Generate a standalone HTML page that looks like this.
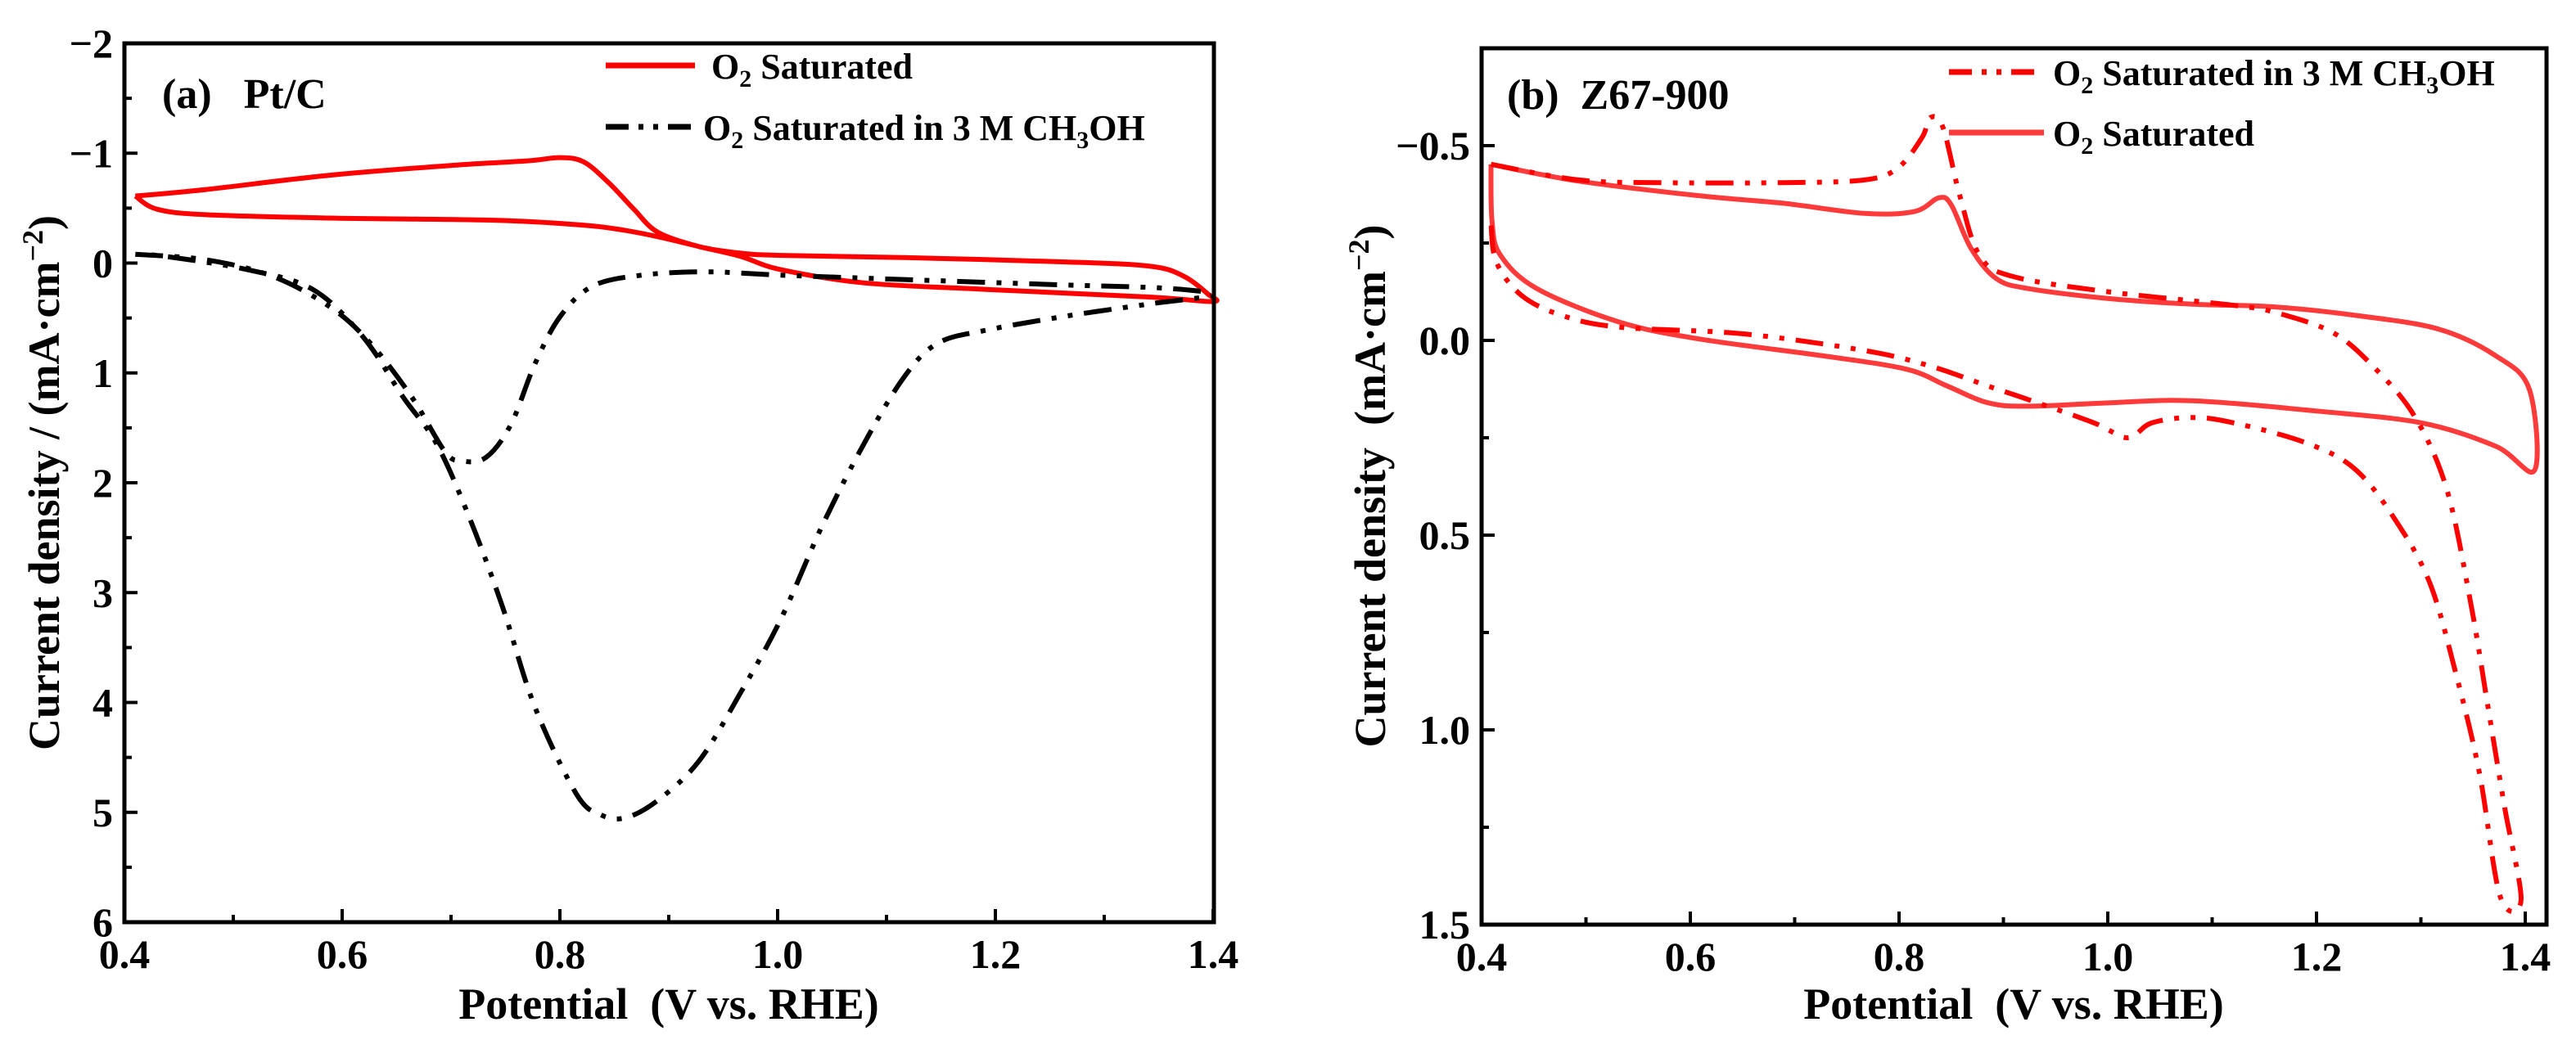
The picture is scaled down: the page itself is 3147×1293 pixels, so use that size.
<!DOCTYPE html>
<html><head><meta charset="utf-8"><style>
html,body{margin:0;padding:0;background:#fff;}
svg text{font-family:"Liberation Serif",serif;font-weight:bold;fill:#000;}
</style></head><body>
<svg id="fig" width="3147" height="1288" viewBox="0 0 3147 1288" xmlns="http://www.w3.org/2000/svg"></svg>
<script>
// ---- Panel (a) data ----
const aXTicks = [0.4, 0.6, 0.8, 1.0, 1.2, 1.4];
const aXTickLabels = ["0.4","0.6","0.8","1.0","1.2","1.4"];
const aYTicks = [-2,-1,0,1,2,3,4,5,6];
const aYTickLabels = ["\u22122","\u22121","0","1","2","3","4","5","6"];
const aO2V = [0.41,0.475,0.589,0.702,0.770,0.800,0.822,0.845,0.868,0.890,0.928,0.966,1.003,1.116,1.267,1.343,1.373,1.395,1.4,1.343,1.192,1.079,1.003,0.966,0.928,0.890,0.852,0.815,0.739,0.589,0.475,0.430,0.41];
const aO2J = [-0.61,-0.67,-0.80,-0.89,-0.93,-0.96,-0.92,-0.73,-0.49,-0.28,-0.15,-0.09,-0.07,-0.05,-0.01,0.03,0.12,0.28,0.35,0.31,0.24,0.18,0.06,-0.06,-0.15,-0.24,-0.31,-0.35,-0.39,-0.41,-0.44,-0.49,-0.61];
const aMeV = [0.41,0.475,0.536,0.589,0.626,0.664,0.694,0.709,0.732,0.755,0.777,0.800,0.830,0.875,0.935,1.003,1.116,1.267,1.358,1.4,1.343,1.267,1.192,1.147,1.116,1.079,1.041,1.003,0.966,0.928,0.890,0.860,0.837,0.815,0.777,0.747,0.717,0.687,0.656,0.619,0.573,0.513,0.438,0.41];
const aMeJ = [-0.08,-0.03,0.12,0.40,0.73,1.22,1.71,1.80,1.77,1.47,0.92,0.49,0.21,0.11,0.08,0.11,0.15,0.20,0.23,0.29,0.37,0.48,0.61,0.73,1.04,1.65,2.39,3.24,3.91,4.53,4.89,5.05,5.02,4.83,4.04,3.12,2.32,1.65,1.22,0.67,0.24,0.06,-0.06,-0.08];
// ---- Panel (b) data ----
const bXTicks = [0.4, 0.6, 0.8, 1.0, 1.2, 1.4];
const bXTickLabels = ["0.4","0.6","0.8","1.0","1.2","1.4"];
const bYTicks = [-0.5,0,0.5,1.0,1.5];
const bYTickLabels = ["\u22120.5","0.0","0.5","1.0","1.5"];
const bO2V = [0.409,0.493,0.610,0.689,0.767,0.815,0.838,0.850,0.869,0.893,0.924,1.003,1.081,1.160,1.238,1.317,1.372,1.404,1.409,1.372,1.301,1.199,1.081,1.003,0.924,0.885,0.846,0.807,0.728,0.610,0.532,0.453,0.418,0.410,0.409];
const bO2J = [-0.452,-0.409,-0.371,-0.352,-0.326,-0.331,-0.366,-0.348,-0.236,-0.159,-0.133,-0.107,-0.093,-0.086,-0.064,-0.029,0.04,0.126,0.333,0.272,0.212,0.181,0.155,0.160,0.169,0.160,0.117,0.074,0.040,-0.003,-0.047,-0.133,-0.219,-0.305,-0.452];
const bMeV = [0.409,0.493,0.571,0.689,0.767,0.799,0.822,0.830,0.842,0.858,0.877,0.909,1.003,1.121,1.160,1.215,1.254,1.294,1.325,1.348,1.364,1.380,1.396,1.376,1.356,1.333,1.309,1.278,1.238,1.191,1.121,1.081,1.042,1.019,0.987,0.924,0.885,0.830,0.767,0.650,0.532,0.477,0.438,0.414,0.409];
const bMeJ = [-0.452,-0.412,-0.405,-0.405,-0.412,-0.443,-0.521,-0.572,-0.547,-0.374,-0.219,-0.164,-0.124,-0.090,-0.072,-0.021,0.066,0.195,0.384,0.678,0.936,1.195,1.436,1.428,1.109,0.850,0.626,0.471,0.333,0.264,0.212,0.198,0.212,0.250,0.212,0.152,0.117,0.066,0.026,-0.017,-0.034,-0.064,-0.116,-0.202,-0.30];

const NS="http://www.w3.org/2000/svg";
const svg=document.getElementById('fig');
function mk(tag,attrs,parent){const e=document.createElementNS(NS,tag);for(const k in attrs)e.setAttribute(k,attrs[k]);(parent||svg).appendChild(e);return e;}
function smooth(pts){let d=`M${pts[0][0].toFixed(1)},${pts[0][1].toFixed(1)}`;for(let i=0;i<pts.length-1;i++){const p0=pts[Math.max(0,i-1)],p1=pts[i],p2=pts[i+1],p3=pts[Math.min(pts.length-1,i+2)];const c1=[p1[0]+(p2[0]-p0[0])/6,p1[1]+(p2[1]-p0[1])/6],c2=[p2[0]-(p3[0]-p1[0])/6,p2[1]-(p3[1]-p1[1])/6];d+=`C${c1[0].toFixed(1)},${c1[1].toFixed(1)} ${c2[0].toFixed(1)},${c2[1].toFixed(1)} ${p2[0].toFixed(1)},${p2[1].toFixed(1)}`;}return d;}

function panel(cfg){
  const g=mk('g',{});
  
  
  const X=v=>cfg.x0+(v-cfg.xmin)*cfg.xs, Y=v=>cfg.y0+(v-cfg.ymin)*cfg.ys;
  cfg.series.forEach(s=>{
    const pts=s.v.map((v,i)=>[X(v),Y(s.j[i])]);
    const p=mk('path',{d:smooth(pts),fill:'none',stroke:s.color,'stroke-width':6,'stroke-linejoin':'round','stroke-dasharray':s.dash||'none'},g);
    
    
  });
  const fr=mk('rect',{x:cfg.x0,y:cfg.top,width:cfg.right-cfg.x0,height:cfg.bottom-cfg.top,fill:'none',stroke:'#000','stroke-width':5},g);
  
  
  const xa=mk('g',{},g);
  
  
  cfg.xt.forEach((v,i)=>{
    mk('line',{x1:X(v),x2:X(v),y1:cfg.bottom,y2:cfg.bottom-16,stroke:'#000','stroke-width':4},xa);
    if(i<cfg.xt.length-1){const m=(v+cfg.xt[i+1])/2;mk('line',{x1:X(m),x2:X(m),y1:cfg.bottom,y2:cfg.bottom-9,stroke:'#000','stroke-width':4},xa);}
    const t=mk('text',{x:X(v),y:cfg.bottom+56,'font-size':50,'text-anchor':'middle'},xa);t.textContent=cfg.xl[i];
    
    
  });
  const ya=mk('g',{},g);
  
  
  cfg.yt.forEach((v,i)=>{
    mk('line',{x1:cfg.x0,x2:cfg.x0+16,y1:Y(v),y2:Y(v),stroke:'#000','stroke-width':4},ya);
    if(i<cfg.yt.length-1){const m=(v+cfg.yt[i+1])/2;mk('line',{x1:cfg.x0,x2:cfg.x0+9,y1:Y(m),y2:Y(m),stroke:'#000','stroke-width':4},ya);}
    const t=mk('text',{x:cfg.x0-14,y:Y(v)+17,'font-size':50,'text-anchor':'end'},ya);t.textContent=cfg.yl[i];
    
    
  });
  return g;
}
function legend(g,x1,x2,y,color,dash,tx,label){
  const e=mk('g',{},g);
  
  
  mk('line',{x1:x1,x2:x2,y1:y,y2:y,stroke:color,'stroke-width':7,'stroke-dasharray':dash||'none'},e);
  const t=mk('text',{x:tx,y:y+16,'font-size':44},e);
  t.innerHTML=label;
}

const ga=panel({name:'panel-a-pt-c',x0:152,xmin:0.4,xs:1330,y0:53,ymin:-2,ys:134.25,top:53,bottom:1127,right:1483,
  xt:aXTicks,xl:aXTickLabels,yt:aYTicks,yl:aYTickLabels,
  series:[{id:'a-o2-saturated-curve',v:aO2V,j:aO2J,color:'#ff0000'},{id:'a-o2-methanol-curve',v:aMeV,j:aMeJ,color:'#000',dash:'34 14 6 14 6 14'}]});
const gb=panel({name:'panel-b-z67-900',x0:1810,xmin:0.4,xs:1275,y0:178,ymin:-0.5,ys:476,top:59,bottom:1130,right:3111,
  xt:bXTicks,xl:bXTickLabels,yt:bYTicks,yl:bYTickLabels,
  series:[{id:'b-o2-saturated-curve',v:bO2V,j:bO2J,color:'#ff3a3a'},{id:'b-o2-methanol-curve',v:bMeV,j:bMeJ,color:'#ff0000',dash:'34 14 6 14 6 14'}]});

function txt(g,x,y,size,html,name,extra){const t=mk('text',Object.assign({x:x,y:y,'font-size':size},extra||{}),g);t.innerHTML=html;return t;}
txt(ga,198,132,52,'(a)&#160;&#160;&#160;Pt/C','panel-a-label');
txt(gb,1841,133,52,'(b)&#160;&#160;Z67-900','panel-b-label');
legend(ga,740,849,80,'#ff0000',null,869,'O<tspan font-size="30" dy="10">2</tspan><tspan dy="-10"> Saturated</tspan>');
legend(ga,740,845,155,'#000','28 12 6 12 6 12',859,'O<tspan font-size="30" dy="10">2</tspan><tspan dy="-10"> Saturated in 3 M CH</tspan><tspan font-size="30" dy="10">3</tspan><tspan dy="-10">OH</tspan>');
legend(gb,2381,2497,88,'#ff0000','28 12 6 12 6 12',2508,'O<tspan font-size="30" dy="10">2</tspan><tspan dy="-10"> Saturated in 3 M CH</tspan><tspan font-size="30" dy="10">3</tspan><tspan dy="-10">OH</tspan>');
legend(gb,2381,2497,162,'#ff3a3a',null,2508,'O<tspan font-size="30" dy="10">2</tspan><tspan dy="-10"> Saturated</tspan>');
txt(ga,817,1245,54,'Potential&#160;&#160;(V vs. RHE)','x-axis-title',{'text-anchor':'middle'});
txt(gb,2460,1245,54,'Potential&#160;&#160;(V vs. RHE)','x-axis-title',{'text-anchor':'middle'});
txt(ga,0,0,54,'Current density / (mA·cm<tspan font-size="36" dy="-20">−2</tspan><tspan dy="20">)</tspan>','y-axis-title',{'text-anchor':'middle',transform:'translate(72,590) rotate(-90)'});
txt(gb,0,0,54,'Current density&#160;&#160;(mA·cm<tspan font-size="36" dy="-20">−2</tspan><tspan dy="20">)</tspan>','y-axis-title',{'text-anchor':'middle',transform:'translate(1692,594) rotate(-90)'});
</script>
</body></html>
